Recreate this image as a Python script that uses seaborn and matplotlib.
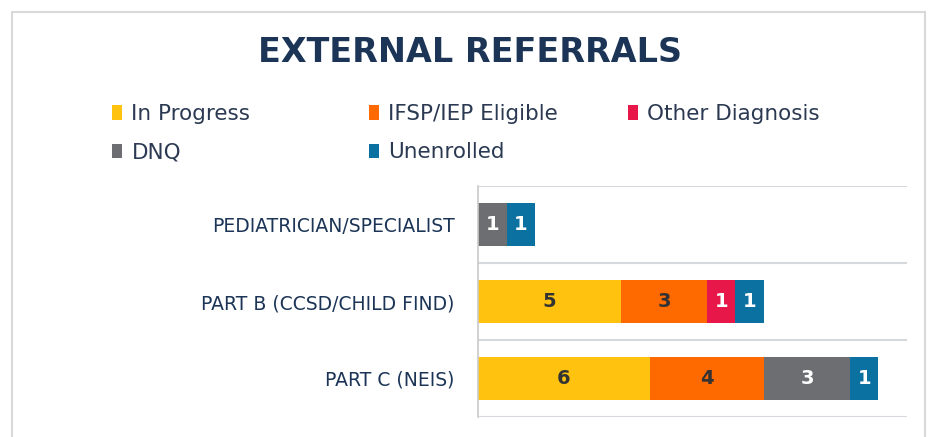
import numpy as np
import pandas as pd
import matplotlib.pyplot as plt
import seaborn as sns
from matplotlib.patches import Patch, Rectangle

# data
categories = ["PEDIATRICIAN/SPECIALIST", "PART B (CCSD/CHILD FIND)", "PART C (NEIS)"]
series = ["In Progress", "IFSP/IEP Eligible", "Other Diagnosis", "DNQ", "Unenrolled"]
in_progress = [0, 5, 6]
ifsp_eligible = [0, 3, 4]
other_diagnosis = [0, 1, 0]
dnq = [1, 0, 3]
unenrolled = [1, 1, 1]

colors = ["#FFC20E", "#FF6A00", "#E8174A", "#6D6E71", "#0B71A0"]
label_colors = ["#333333", "#333333", "white", "white", "white"]
navy = "#1C3557"

sns.set_style("white")
plt.rcParams["font.family"] = ["DejaVu Sans"]

df = pd.DataFrame({"category": categories,
                   series[0]: in_progress,
                   series[1]: ifsp_eligible,
                   series[2]: other_diagnosis,
                   series[3]: dnq,
                   series[4]: unenrolled})
cum = df[series].cumsum(axis=1)

fig = plt.figure(figsize=(9.4, 4.37), dpi=100)
ax = fig.add_axes([0.5085, 0.046, 0.4565, 0.528])

# stacked bars: draw cumulative totals from the last series back to the first
for s, c in reversed(list(zip(series, colors))):
    sns.barplot(x=cum[s], y=df["category"], color=c, orient="h",
                width=0.55, saturation=1, linewidth=0, edgecolor="none", ax=ax)

# segment labels
for i in range(len(categories)):
    left = 0
    for s, tc in zip(series, label_colors):
        v = df.loc[i, s]
        if v > 0:
            ax.text(left + v / 2, i, str(v), ha="center", va="center",
                    fontsize=14, color=tc, fontweight="semibold")
        left += v

ax.set_xlim(0, 15)
ax.set_ylim(2.5, -0.5)
ax.set_xlabel("")
ax.set_ylabel("")
ax.set_xticks([])
for y in np.arange(-0.5, 3, 1):
    ax.axhline(y, color="#d5d9de", lw=1.5, zorder=0)
for side in ["top", "right", "bottom"]:
    ax.spines[side].set_visible(False)
ax.spines["left"].set_color("#c9c9c9")
ax.spines["left"].set_linewidth(1.2)
ax.tick_params(axis="y", length=0, pad=17)
for lbl in ax.get_yticklabels():
    lbl.set_fontsize(13.5)
    lbl.set_color(navy)
    lbl.set_fontweight("medium")

# title
fig.text(0.5, 0.88, "EXTERNAL REFERRALS", ha="center", va="center",
         fontsize=24, fontweight="bold", color=navy)

# legend: one small legend per column so the columns sit where the original has them
handles = {s: Patch(facecolor=c, edgecolor="none") for s, c in zip(series, colors)}
legend_cols = [["In Progress", "DNQ"], ["IFSP/IEP Eligible", "Unenrolled"], ["Other Diagnosis"]]
col_x = [112 / 940, 369 / 940, 628 / 940]
for names, x in zip(legend_cols, col_x):
    leg = fig.legend([handles[n] for n in names], names,
                     loc="upper left", bbox_to_anchor=(x, 0.762),
                     frameon=False, fontsize=15.5, handlelength=0.45, handleheight=0.65,
                     handletextpad=0.45, labelspacing=0.85, borderpad=0,
                     borderaxespad=0, labelcolor="#2b3a52")

# card border
fig.patches.append(Rectangle((12 / 940, -0.05), 913 / 940, 1 - 12 / 437 + 0.05,
                             transform=fig.transFigure, fill=False,
                             edgecolor="#d9d9d9", lw=1.5))

plt.savefig("out.png", dpi=100)
